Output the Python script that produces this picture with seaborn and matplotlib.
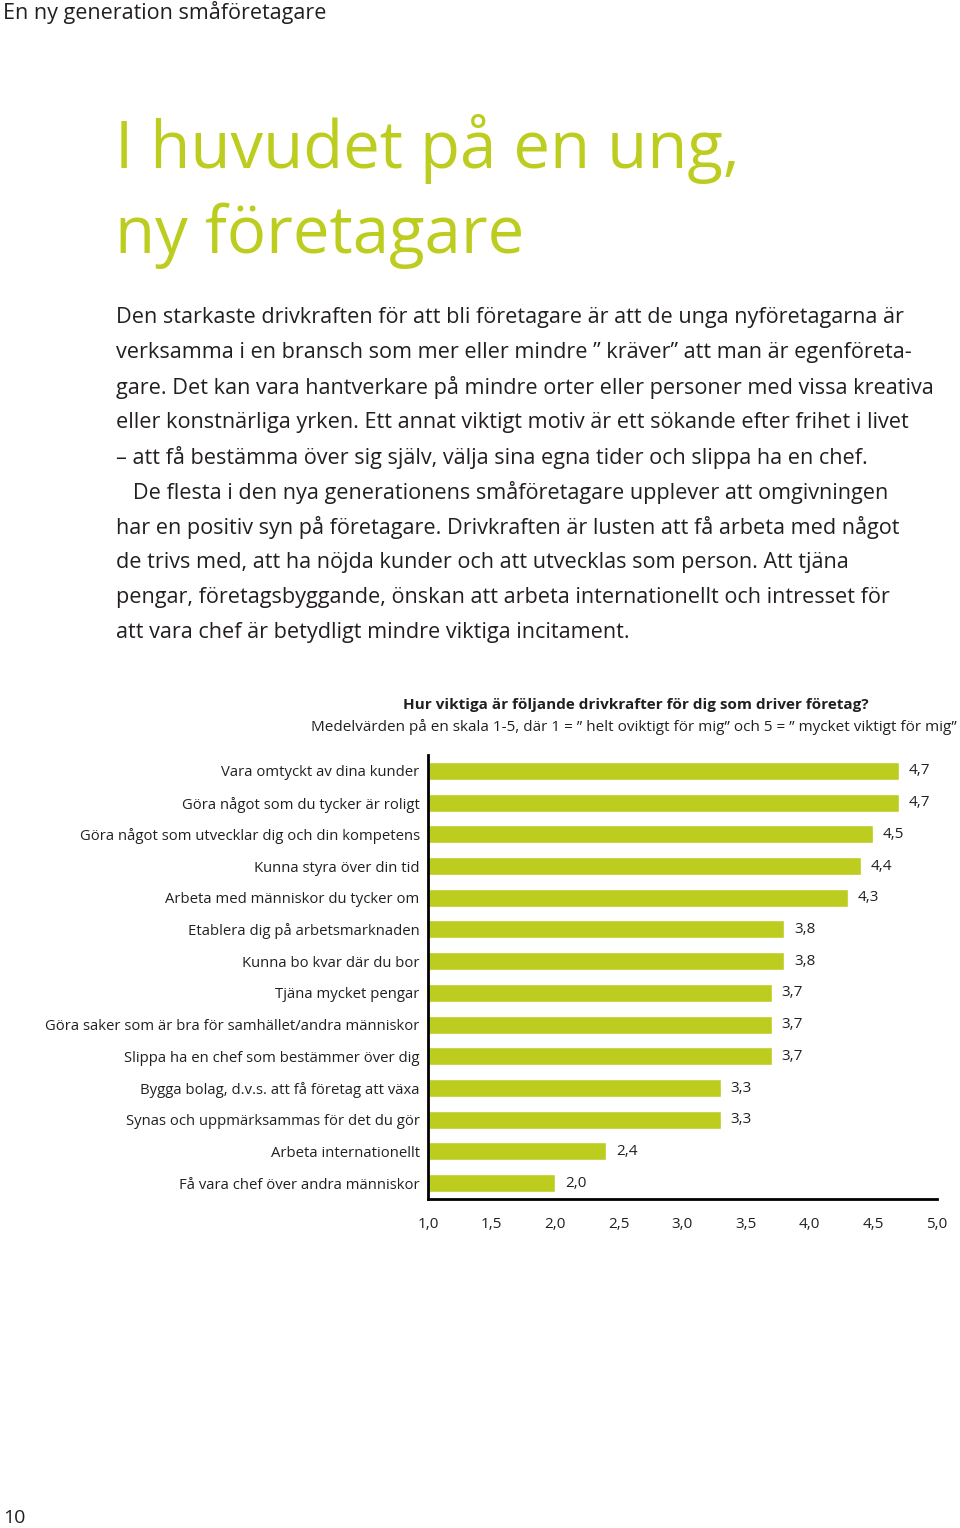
"""
Drivkrafter för unga företagare - stapeldiagram
"""
import matplotlib
matplotlib.use('Agg')
import matplotlib.pyplot as plt
import seaborn as sns
import pandas as pd

# data
drivkrafter = [
    'Vara omtyckt av dina kunder',
    'Göra något som du tycker är roligt',
    'Göra något som utvecklar dig och din kompetens',
    'Kunna styra över din tid',
    'Arbeta med människor du tycker om',
    'Etablera dig på arbetsmarknaden',
    'Kunna bo kvar där du bor',
    'Tjäna mycket pengar',
    'Göra saker som är bra för samhället/andra människor',
    'Slippa ha en chef som bestämmer över dig',
    'Bygga bolag, d.v.s. att få företag att växa',
    'Synas och uppmärksammas för det du gör',
    'Arbeta internationellt',
    'Få vara chef över andra människor',
]
medelvarden = [4.7, 4.7, 4.5, 4.4, 4.3, 3.8, 3.8, 3.7, 3.7, 3.7, 3.3, 3.3, 2.4, 2.0]
x_ticks = [1.0, 1.5, 2.0, 2.5, 3.0, 3.5, 4.0, 4.5, 5.0]

header = 'En ny generation småföretagare'
rubrik = ['I huvudet på en ung,', 'ny företagare']
brodtext = [
    'Den starkaste drivkraften för att bli företagare är att de unga nyföretagarna är',
    'verksamma i en bransch som mer eller mindre \u201d kräver\u201d att man är egenföreta-',
    'gare. Det kan vara hantverkare på mindre orter eller personer med vissa kreativa',
    'eller konstnärliga yrken. Ett annat viktigt motiv är ett sökande efter frihet i livet',
    '\u2013 att få bestämma över sig själv, välja sina egna tider och slippa ha en chef.',
    '   De flesta i den nya generationens småföretagare upplever att omgivningen',
    'har en positiv syn på företagare. Drivkraften är lusten att få arbeta med något',
    'de trivs med, att ha nöjda kunder och att utvecklas som person. Att tjäna',
    'pengar, företagsbyggande, önskan att arbeta internationellt och intresset för',
    'att vara chef är betydligt mindre viktiga incitament.',
]
diagram_titel = 'Hur viktiga är följande drivkrafter för dig som driver företag?'
diagram_under = 'Medelvärden på en skala 1-5, där 1 = \u201d helt oviktigt för mig\u201d och 5 = \u201d mycket viktigt för mig\u201d'
sidnummer = '10'

GRON = '#bccd1f'
TEXT = '#231f20'

sns.set_theme(style='white')
plt.rcParams['font.family'] = ['Open Sans', 'DejaVu Sans']

W, H = 960, 1528
fig = plt.figure(figsize=(W / 100, H / 100), dpi=100)

def fy(py):
    return 1 - py / H

# texter överst
fig.text(3 / W, fy(12), header, fontsize=15.5, color=TEXT, va='center', ha='left')
fig.text(115 / W, fy(149), rubrik[0], fontsize=47, color=GRON, va='center', ha='left')
fig.text(115 / W, fy(236), rubrik[1], fontsize=47, color=GRON, va='center', ha='left')
for i, rad in enumerate(brodtext):
    fig.text(116 / W, fy(318 + i * 34.9), rad, fontsize=15.6, color=TEXT, va='center', ha='left')

fig.text(636 / W, fy(705), diagram_titel, fontsize=11, color=TEXT, weight='bold', va='center', ha='center')
fig.text(957 / W, fy(727), diagram_under, fontsize=11, color=TEXT, va='center', ha='right')
fig.text(3 / W, fy(1518), sidnummer, fontsize=14, color=TEXT, va='center', ha='left')

# diagram
ax = fig.add_axes([428 / W, 1 - 1199 / H, (937 - 428) / W, (1199 - 755) / H])
df = pd.DataFrame({'drivkraft': drivkrafter, 'varde': medelvarden})
sns.barplot(data=df, x='varde', y='drivkraft', orient='h', color=GRON,
            saturation=1, width=0.57, ax=ax)
ax.set_xlim(1.0, 5.0)
ax.set_ylim(len(drivkrafter) - 0.5, -0.5)
ax.bar_label(ax.containers[0], labels=[f'{v:.1f}'.replace('.', ',') for v in medelvarden],
             padding=7, fontsize=11, color=TEXT)
ax.set_xticks(x_ticks)
ax.set_xticklabels([f'{t:.1f}'.replace('.', ',') for t in x_ticks], fontsize=11, color=TEXT)
ax.tick_params(axis='x', length=0, pad=13)
ax.tick_params(axis='y', length=0, pad=6, labelsize=10.7, labelcolor=TEXT)
ax.set_xlabel('')
ax.set_ylabel('')
sns.despine(ax=ax, top=True, right=True)
for s in ['left', 'bottom']:
    ax.spines[s].set_color('black')
    ax.spines[s].set_linewidth(2)

fig.savefig('out.png', dpi=100, facecolor='white')
